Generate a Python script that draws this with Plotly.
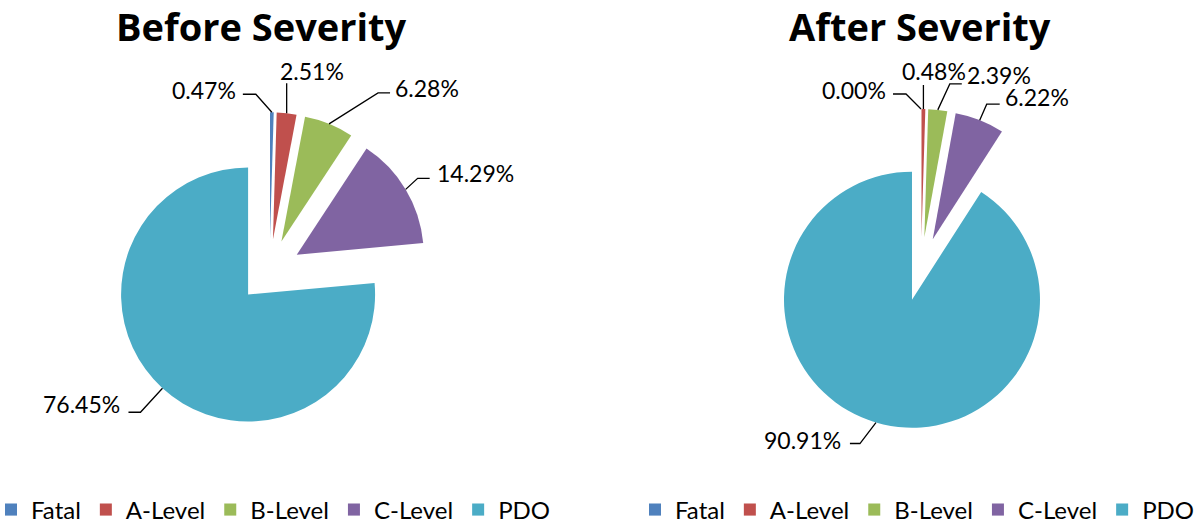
import math
import plotly.graph_objects as go

W, H = 1194, 523

# ---- data -------------------------------------------------------------
categories = ["Fatal", "A-Level", "B-Level", "C-Level", "PDO"]
before_pct = [0.47, 2.51, 6.28, 14.29, 76.45]
after_pct = [0.00, 0.48, 2.39, 6.22, 90.91]
titles = ["Before Severity", "After Severity"]

# ---- styling ----------------------------------------------------------
slice_colors = ["#4F81BD", "#C0504D", "#9BBB59", "#8064A2", "#4BACC6"]
FONT = "Lato"
TITLE_FONT = "Open Sans"
PULL = 0.25

# centre and radius (px) of each pie
pies = [
    dict(cx=269.5, cy=271, r=127, legend="legend", group="before", title_x=261.5, legend_x=-9),
    dict(cx=921, cy=269, r=128, legend="legend2", group="after", title_x=920, legend_x=635),
]

# leader-line layout per slice, px offsets from the slice's outer-arc midpoint:
# (bend point, end point, text point, text anchor)
callouts = [
    [
        ((-16, -18), (-29, -18), (-34, -22), "right"),
        ((0, -30), (0, -30), (-9, -42), "left"),
        ((49, -31), (61, -31), (64, -36), "left"),
        ((12, -11), (24, -11), (29, -16), "left"),
        ((-22, 24), (-34, 24), (-40, 16), "right"),
    ],
    [
        ((-15, -15), (-28, -15), (-33, -19), "right"),
        ((0, -24), (0, -24), (-23, -38), "left"),
        ((12, -26), (24, -26), (27, -35), "left"),
        ((7, -16), (20, -16), (23, -23), "left"),
        ((-16, 21), (-26, 21), (-33, 17), "right"),
    ],
]


def px(x):
    return x / W


def py(y):
    return 1 - y / H


fig = go.Figure()
shapes = []
annotations = []

for pie, values, title, layout_rows in zip(pies, [before_pct, after_pct], titles, callouts):
    cx, cy, r = pie["cx"], pie["cy"], pie["r"]
    half = r * (1 + PULL)
    fig.add_trace(go.Pie(
        labels=categories,
        values=values,
        sort=False,
        direction="clockwise",
        rotation=0,
        pull=[PULL] * len(values),
        marker=dict(colors=slice_colors, line=dict(width=0)),
        textinfo="none",
        hoverinfo="label+percent",
        legend=pie["legend"],
        legendgroup=pie["group"],
        domain=dict(
            x=[px(cx - half - 12), px(cx + half + 12)],
            y=[py(cy + half), py(cy - half)],
        ),
    ))

    # leader lines and value labels, placed from each slice's mid angle
    total = sum(values)
    start = 0.0
    for v, (bend, end, txt, side) in zip(values, layout_rows):
        mid = (start + v / 2) / total * 2 * math.pi
        start += v
        ax = cx + half * math.sin(mid)
        ay = cy - half * math.cos(mid)
        pts = [(ax, ay), (ax + bend[0], ay + bend[1]), (ax + end[0], ay + end[1])]
        path = "M " + " L ".join(f"{px(x):.5f},{py(y):.5f}" for x, y in pts)
        shapes.append(dict(type="path", xref="paper", yref="paper", path=path,
                           line=dict(color="#000000", width=1.3)))
        annotations.append(dict(
            x=px(ax + txt[0]), y=py(ay + txt[1]), xref="paper", yref="paper",
            text=f"{v:.2f}%", showarrow=False, xanchor=side, yanchor="middle",
            font=dict(family=FONT, size=23, color="#000000"),
        ))

    annotations.append(dict(
        x=px(pie["title_x"]), y=py(26), xref="paper", yref="paper", text=title,
        showarrow=False, xanchor="center", yanchor="middle",
        font=dict(family=TITLE_FONT, size=38, color="#000000", weight="bold"),
    ))

legend_style = dict(
    orientation="h", xanchor="left", yanchor="middle", y=py(510),
    traceorder="normal",
    font=dict(family=FONT, size=24, color="#000000"),
    bgcolor="rgba(0,0,0,0)", itemwidth=30,
)

fig.update_layout(
    width=W, height=H,
    margin=dict(l=0, r=0, t=0, b=0, autoexpand=False),
    paper_bgcolor="#FFFFFF",
    plot_bgcolor="#FFFFFF",
    shapes=shapes,
    annotations=annotations,
    legend=dict(legend_style, x=px(pies[0]["legend_x"])),
    legend2=dict(legend_style, x=px(pies[1]["legend_x"])),
    showlegend=True,
)

fig.write_html("out.html")
